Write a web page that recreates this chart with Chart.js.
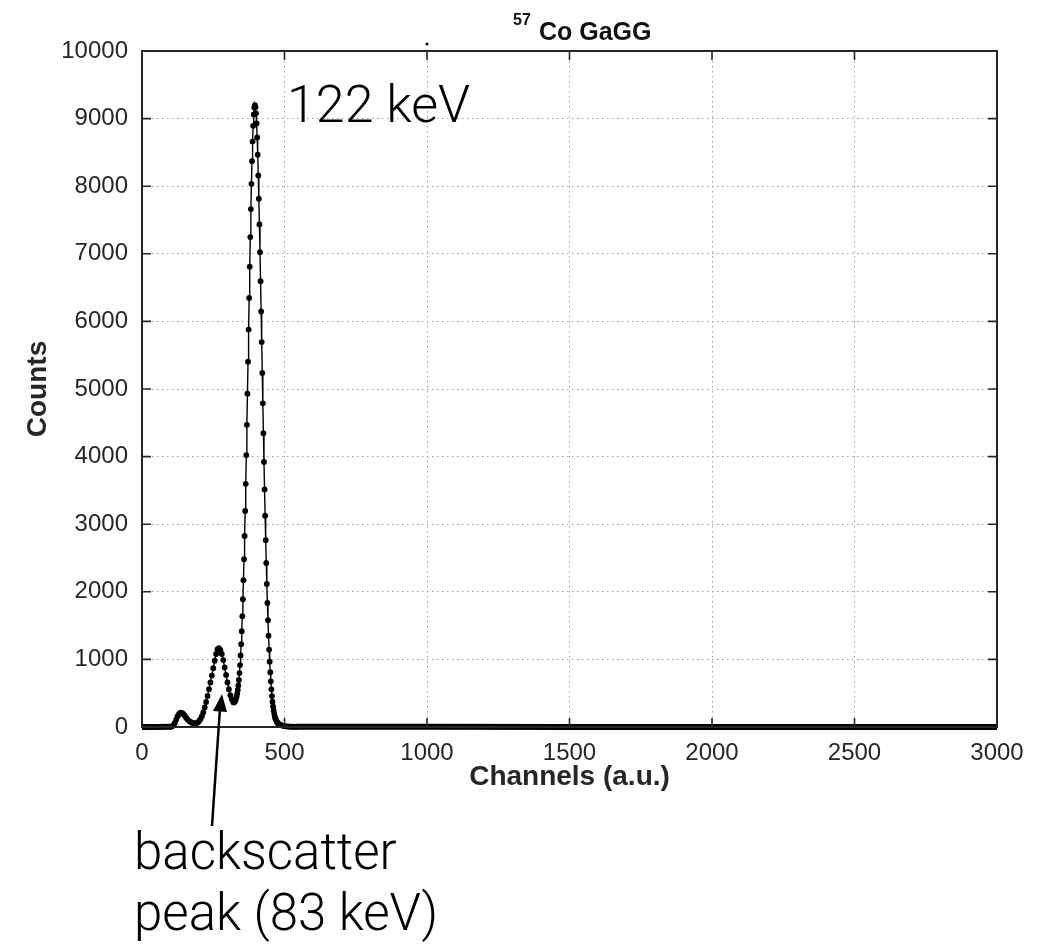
<!DOCTYPE html>
<html>
<head>
<meta charset="utf-8">
<script src="https://cdn.jsdelivr.net/npm/chart.js@4.4.1/dist/chart.umd.min.js"></script>
<style>
  html, body { margin: 0; padding: 0; background: #fff; }
  #wrap { position: relative; width: 1045px; height: 944px; }
  #chart { position: absolute; left: 0; top: 0; }
  #overlay { position: absolute; left: 0; top: 0; pointer-events: none; }
</style>
</head>
<body>
<div id="wrap">
  <canvas id="chart" width="1045" height="944"></canvas>
  <svg id="overlay" width="1045" height="944" xmlns="http://www.w3.org/2000/svg">
    <text x="513" y="25" font-family="Liberation Sans, Arial, sans-serif" font-weight="bold" font-size="16" fill="#111">57</text>
    <text x="539" y="40" font-family="Liberation Sans, Arial, sans-serif" font-weight="bold" font-size="25" fill="#111">Co GaGG</text>
    <circle cx="427" cy="44" r="1.6" fill="#111"/>
    <text x="287" y="122" font-family="Roboto, Lato, sans-serif" font-weight="300" font-size="52" fill="#000">122 keV</text>
    <text x="134" y="869" font-family="Roboto, Lato, sans-serif" font-weight="300" font-size="51" fill="#000">backscatter</text>
    <text x="134" y="930" font-family="Roboto, Lato, sans-serif" font-weight="300" font-size="51" fill="#000">peak (83 keV)</text>
    <line x1="212" y1="826" x2="220" y2="708" stroke="#000" stroke-width="2.5"/>
    <polygon points="222,694 213,711 227,712" fill="#000"/>
  </svg>
</div>
<script>
// ---------- Data ----------
const xTicks = [0, 500, 1000, 1500, 2000, 2500, 3000];
const yTicks = [0, 1000, 2000, 3000, 4000, 5000, 6000, 7000, 8000, 9000, 10000];

// measured points around the peaks
const channels = [
  100, 105, 110, 115, 120, 125, 130, 135, 140, 145, 150, 155, 160, 165, 170, 175, 180, 185, 190, 195,
  200, 205, 210, 215, 220, 225, 230, 235, 240, 245, 250, 255, 260, 265, 270, 275, 280, 285, 290, 295,
  300, 305, 310, 315, 320,
  322, 324, 326, 328, 330, 332, 334, 336, 338, 340, 342, 344, 346, 348, 350, 352, 354, 356, 358, 360,
  362, 364, 366, 368, 370, 372, 374, 376, 378, 380, 382, 384, 386, 388, 390, 392, 394, 396, 398, 400,
  402, 404, 406, 408, 410, 412, 414, 416, 418, 420, 422, 424, 426, 428, 430, 432, 434, 436, 438, 440,
  442, 444, 446, 448, 450, 452, 454, 456, 458, 460, 462, 464, 466, 468, 470, 472, 474, 476, 478, 480,
  485, 490, 495, 500, 505, 510, 515, 520, 525, 530, 535, 540
];
const counts = [
  2, 8, 25, 60, 110, 160, 195, 212, 210, 192, 168, 138, 112, 92, 76, 63, 56, 52, 55, 65,
  85, 115, 160, 215, 290, 370, 460, 560, 660, 760, 870, 980, 1080, 1150, 1165, 1140, 1080, 990, 880, 770,
  660, 560, 470, 410, 370,
  362, 369, 380, 396, 421, 453, 494, 547, 614, 696, 797, 916, 1058, 1224, 1417, 1638, 1890, 2171, 2483, 2826,
  3197, 3598, 4022, 4470, 4930, 5404, 5879, 6348, 6809, 7248, 7661, 8035, 8370, 8660, 8893, 9062, 9165, 9200, 9169, 9078,
  8928, 8722, 8465, 8159, 7814, 7434, 7023, 6594, 6147, 5694, 5238, 4788, 4347, 3920, 3513, 3125, 2763, 2426, 2117, 1834,
  1579, 1350, 1146, 967, 811, 675, 558, 458, 374, 303, 244, 195, 155, 122, 108, 88, 72, 60, 50, 43,
  34, 25, 18, 13, 10, 8, 6, 5, 4, 4, 3, 3
];

// flat, near-empty stretches before and after the peaks (null breaks the line)
const baseChannels = [0, 50, 100, 101, 540, 700, 1000, 1500, 2000, 2500, 3000];
const baseCounts = [0, 0, 2, null, 3, 2, 2, 1, 1, 1, 1];

const toXY = (xs, ys) => xs.map((x, i) => ({ x: x, y: ys[i] }));

// ---------- Box + inward ticks, MATLAB style ----------
const boxPlugin = {
  id: "box",
  afterDraw(chart) {
    const { ctx, chartArea: a, scales } = chart;
    const len = 9;
    ctx.save();
    ctx.strokeStyle = "#262626";
    ctx.lineWidth = 1.6;
    xTicks.forEach((v) => {
      const px = scales.x.getPixelForValue(v);
      ctx.beginPath();
      ctx.moveTo(px, a.bottom); ctx.lineTo(px, a.bottom - len);
      ctx.moveTo(px, a.top); ctx.lineTo(px, a.top + len);
      ctx.stroke();
    });
    yTicks.forEach((v) => {
      const py = scales.y.getPixelForValue(v);
      ctx.beginPath();
      ctx.moveTo(a.left, py); ctx.lineTo(a.left + len, py);
      ctx.moveTo(a.right, py); ctx.lineTo(a.right - len, py);
      ctx.stroke();
    });
    ctx.lineWidth = 2;
    ctx.strokeRect(a.left, a.top, a.right - a.left, a.bottom - a.top);
    ctx.restore();
  }
};

const tickFont = { family: "Liberation Sans, Arial, sans-serif", size: 24 };
const titleFont = { family: "Liberation Sans, Arial, sans-serif", size: 28, weight: "bold" };
const plain = (v) => String(v);

new Chart(document.getElementById("chart"), {
  type: "scatter",
  data: {
    datasets: [
      {
        label: "baseline",
        data: toXY(baseChannels, baseCounts),
        showLine: true,
        spanGaps: false,
        borderColor: "#000",
        borderWidth: 6,
        pointRadius: 0,
        clip: 6,
        order: 2
      },
      {
        label: "57Co GaGG",
        data: toXY(channels, counts),
        showLine: true,
        borderColor: "#000",
        borderWidth: 1.4,
        pointRadius: 2.9,
        pointBorderWidth: 0,
        pointBackgroundColor: "#000",
        clip: 6,
        order: 1
      }
    ]
  },
  options: {
    responsive: false,
    animation: false,
    layout: { padding: { left: 0, top: 51, right: 48, bottom: 0 } },
    plugins: { legend: { display: false }, tooltip: { enabled: false } },
    scales: {
      x: {
        type: "linear",
        min: 0, max: 3000,
        afterBuildTicks: (s) => { s.ticks = xTicks.map((v) => ({ value: v })); },
        afterFit: (s) => { s.height = 217; },
        ticks: { font: tickFont, color: "#262626", padding: 12, maxRotation: 0, callback: plain },
        grid: { color: "#a0a0a0", lineWidth: 1, drawTicks: false },
        border: { display: false, dash: [1.5, 3.5] },
        title: { display: true, text: "Channels (a.u.)", font: titleFont, color: "#262626", padding: { top: 0, bottom: 150 } }
      },
      y: {
        type: "linear",
        min: 0, max: 10000,
        afterBuildTicks: (s) => { s.ticks = yTicks.map((v) => ({ value: v })); },
        afterFit: (s) => { s.width = 142; },
        ticks: { font: tickFont, color: "#262626", padding: 14, callback: plain },
        grid: { color: "#a0a0a0", lineWidth: 1, drawTicks: false },
        border: { display: false, dash: [1.5, 3.5] },
        title: { display: true, text: "Counts", font: titleFont, color: "#262626", padding: { top: 21, bottom: 0 } }
      }
    }
  },
  plugins: [boxPlugin]
});
</script>
</body>
</html>
